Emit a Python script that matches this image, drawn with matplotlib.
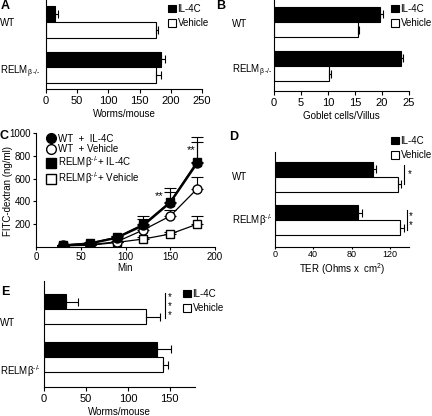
import matplotlib
matplotlib.use('Agg')
import matplotlib.pyplot as plt
from matplotlib.patches import Patch
from matplotlib.lines import Line2D
import matplotlib.transforms as mtransforms

plt.rcParams['font.family'] = ['Liberation Sans', 'DejaVu Sans']
plt.rcParams['font.size'] = 7
plt.rcParams['axes.linewidth'] = 0.8
plt.rcParams['mathtext.fontset'] = 'custom'
plt.rcParams['mathtext.rm'] = 'Liberation Sans'
plt.rcParams['mathtext.it'] = 'Liberation Sans'

W, H = 432, 416

# ---- data ----
groups_ab = ['WT', r'RELM$\mathregular{_{β\,\text{-/-}}}$']
groups_de = ['WT', r'RELM$\mathregular{β^{\text{-/-}}}$']

a_il4c = [14, 185]
a_il4c_err = [5, 5]
a_veh = [176, 177]
a_veh_err = [4, 7]

b_il4c = [19.7, 23.6]
b_il4c_err = [0.4, 0.3]
b_veh = [15.5, 10.2]
b_veh_err = [0.3, 0.3]

c_min = [30, 60, 90, 120, 150, 180]
c_wt_il4c = [15, 30, 80, 190, 390, 735]
c_wt_il4c_err = [5, 8, 15, 60, 95, 190]
c_wt_veh = [10, 20, 45, 150, 272, 510]
c_wt_veh_err = [3, 5, 10, 25, 50, 100]
c_relm_il4c = [15, 35, 85, 199, 398, 750]
c_relm_il4c_err = [5, 10, 15, 70, 120, 215]
c_relm_veh = [10, 15, 40, 70, 114, 200]
c_relm_veh_err = [3, 5, 8, 15, 20, 75]
c_labels = ['WT  +  IL-4C', 'WT  + Vehicle',
            r'RELM$\mathregular{β^{\text{-/-}}}$+ IL-4C',
            r'RELM$\mathregular{β^{\text{-/-}}}$+ Vehicle']

d_il4c = [102, 87]
d_il4c_err = [3, 4]
d_veh = [129, 130.5]
d_veh_err = [3, 4]

e_il4c = [26, 135]
e_il4c_err = [15, 16]
e_veh = [122, 142]
e_veh_err = [16, 6]

fig = plt.figure(figsize=(W / 100, H / 100), dpi=100)


def px(l, t, r, b):
    return [l / W, 1 - b / H, (r - l) / W, (b - t) / H]


def fxy(x, y):
    return (x / W, 1 - y / H)


def bar_panel(rect, il4c, il4c_err, veh, veh_err, labels, xlim, xticks,
              ylim, h, label_x, label_off, xlabel, ticksize=8):
    ax = fig.add_axes(px(*rect))
    pos = [0, 1]
    ax.barh([p - h / 2 for p in pos], il4c, height=h, color='black',
            edgecolor='black', linewidth=0.8)
    ax.barh([p + h / 2 for p in pos], veh, height=h, color='white',
            edgecolor='black', linewidth=0.8)
    ax.errorbar(il4c, [p - h / 2 for p in pos], xerr=[[0, 0], il4c_err],
                fmt='none', ecolor='black', elinewidth=0.8, capsize=3, capthick=0.8)
    ax.errorbar(veh, [p + h / 2 for p in pos], xerr=[[0, 0], veh_err],
                fmt='none', ecolor='black', elinewidth=0.8, capsize=3, capthick=0.8)
    ax.set_xlim(*xlim)
    ax.set_ylim(*ylim)
    ax.set_xticks(xticks)
    ax.set_yticks([])
    ax.spines['top'].set_visible(False)
    ax.spines['right'].set_visible(False)
    ax.tick_params(axis='x', length=3, width=0.8, pad=2, labelsize=ticksize)
    ax.set_xlabel(xlabel, fontsize=7, labelpad=2)
    tr = mtransforms.blended_transform_factory(fig.transFigure, ax.transData)
    for p, lab, off in zip(pos, labels, label_off):
        ax.text(label_x / W, p + off, lab, transform=tr, ha='left',
                va='center', fontsize=7)
    return ax


def square_legend(x, y, spacing=0.45):
    handles = [Patch(facecolor='black', edgecolor='black', linewidth=0.8, label='IL-4C'),
               Patch(facecolor='white', edgecolor='black', linewidth=0.8, label='Vehicle')]
    fig.legend(handles=handles, loc='upper left', bbox_to_anchor=fxy(x, y),
               frameon=False, borderpad=0, handlelength=0.85, handleheight=0.85,
               handletextpad=0.15, labelspacing=spacing, fontsize=7)


# A
ax_a = bar_panel((46, 0, 202, 89), a_il4c, a_il4c_err, a_veh, a_veh_err,
                 groups_ab, (0, 250), [0, 50, 100, 150, 200, 250],
                 (1.48, -0.49), 0.35, 0, [0.02, 0.1], 'Worms/mouse')
square_legend(163, -1)
fig.text(1 / W, 1 - 0 / H, 'A', fontsize=9, fontweight='bold', va='top')

# B
ax_b = bar_panel((274, 0, 409, 91), b_il4c, b_il4c_err, b_veh, b_veh_err,
                 groups_ab, (0, 25), [0, 5, 10, 15, 20, 25],
                 (1.57, -0.5), 0.35, 232, [0.05, 0.1], 'Goblet cells/Villus')
square_legend(386, -1)
fig.text(216 / W, 1 - 0 / H, 'B', fontsize=9, fontweight='bold', va='top')

# C
ax_c = fig.add_axes(px(36, 133, 215, 247))
ax_c.errorbar(c_min, c_relm_veh, yerr=[[0] * 6, c_relm_veh_err], color='black',
              marker='s', mfc='white', mec='black', ms=6, lw=0.9, capsize=4,
              elinewidth=0.8, capthick=0.8)
ax_c.errorbar(c_min, c_wt_veh, yerr=[[0] * 6, c_wt_veh_err], color='black',
              marker='o', mfc='white', mec='black', ms=6.5, lw=0.9, capsize=4,
              elinewidth=0.8, capthick=0.8)
ax_c.errorbar(c_min, c_wt_il4c, yerr=[[0] * 6, c_wt_il4c_err], color='black',
              marker='o', mfc='black', mec='black', ms=6.5, lw=1.6, capsize=4,
              elinewidth=0.8, capthick=0.8)
ax_c.errorbar(c_min, c_relm_il4c, yerr=[[0] * 6, c_relm_il4c_err], color='black',
              marker='s', mfc='black', mec='black', ms=6, lw=1.0, capsize=4,
              elinewidth=0.8, capthick=0.8)
ax_c.set_xlim(0, 200)
ax_c.set_ylim(0, 1000)
ax_c.set_xticks([0, 50, 100, 150, 200])
ax_c.set_yticks([200, 400, 600, 800, 1000])
ax_c.spines['top'].set_visible(False)
ax_c.spines['right'].set_visible(False)
ax_c.tick_params(length=2.5, width=0.8, pad=1, labelsize=7)
ax_c.set_xlabel('Min', fontsize=7, labelpad=1)
ax_c.set_ylabel('FITC-dextran (ng/ml)', fontsize=7)
ax_c.yaxis.set_label_coords(13 / W, 1 - 191 / H, transform=fig.transFigure)
c_handles = [Line2D([], [], ls='none', marker='o', mfc='black', mec='black', ms=7),
             Line2D([], [], ls='none', marker='o', mfc='white', mec='black', ms=7),
             Line2D([], [], ls='none', marker='s', mfc='black', mec='black', ms=6.5),
             Line2D([], [], ls='none', marker='s', mfc='white', mec='black', ms=6.5)]
fig.legend(c_handles, c_labels, loc='upper left',
           bbox_to_anchor=fxy(42, 129), frameon=False, borderpad=0,
           handlelength=0.8, handletextpad=0.3, labelspacing=0.02, fontsize=7)
ax_c.text(143, 450, '**', ha='right', va='center', fontsize=8)
ax_c.text(178, 850, '**', ha='right', va='center', fontsize=8)
fig.text(0 / W, 1 - 130 / H, 'C', fontsize=9, fontweight='bold', va='top')

# D
ax_d = bar_panel((275, 152, 409, 247), d_il4c, d_il4c_err, d_veh, d_veh_err,
                 groups_de, (0, 140), [0, 40, 80, 120],
                 (1.62, -0.57), 0.35, 232, [0.0, 0.0],
                 r'TER (Ohms x  cm$\mathregular{^2}$)', ticksize=6.5)
ax_d.tick_params(axis='x', length=1.5, pad=1)
ax_d.xaxis.labelpad = 1
square_legend(386, 131)
fig.text(229 / W, 1 - 131 / H, 'D', fontsize=9, fontweight='bold', va='top')
fig.add_artist(Line2D([404 / W, 404 / W], [1 - 165 / H, 1 - 184 / H], color='black', lw=0.8))
fig.text(410 / W, 1 - 174 / H, '*', fontsize=7, ha='center', va='center')
fig.add_artist(Line2D([407 / W, 407 / W], [1 - 210 / H, 1 - 230 / H], color='black', lw=0.8))
fig.text(411 / W, 1 - 216 / H, '*', fontsize=7, ha='center', va='center')
fig.text(411 / W, 1 - 225 / H, '*', fontsize=7, ha='center', va='center')

# E
ax_e = bar_panel((44, 281, 195, 387), e_il4c, e_il4c_err, e_veh, e_veh_err,
                 groups_de, (0, 180), [0, 50, 100, 150],
                 (1.63, -0.59), 0.32, 0, [0.3, 0.3], 'Worms/mouse')
square_legend(178, 284)
fig.text(1 / W, 1 - 286 / H, 'E', fontsize=9, fontweight='bold', va='top')
fig.add_artist(Line2D([165 / W, 165 / W], [1 - 293 / H, 1 - 318 / H], color='black', lw=0.8))
for sy in [297, 306, 315]:
    fig.text(170 / W, 1 - sy / H, '*', fontsize=7, ha='center', va='center')

fig.savefig('out.png', dpi=100)
